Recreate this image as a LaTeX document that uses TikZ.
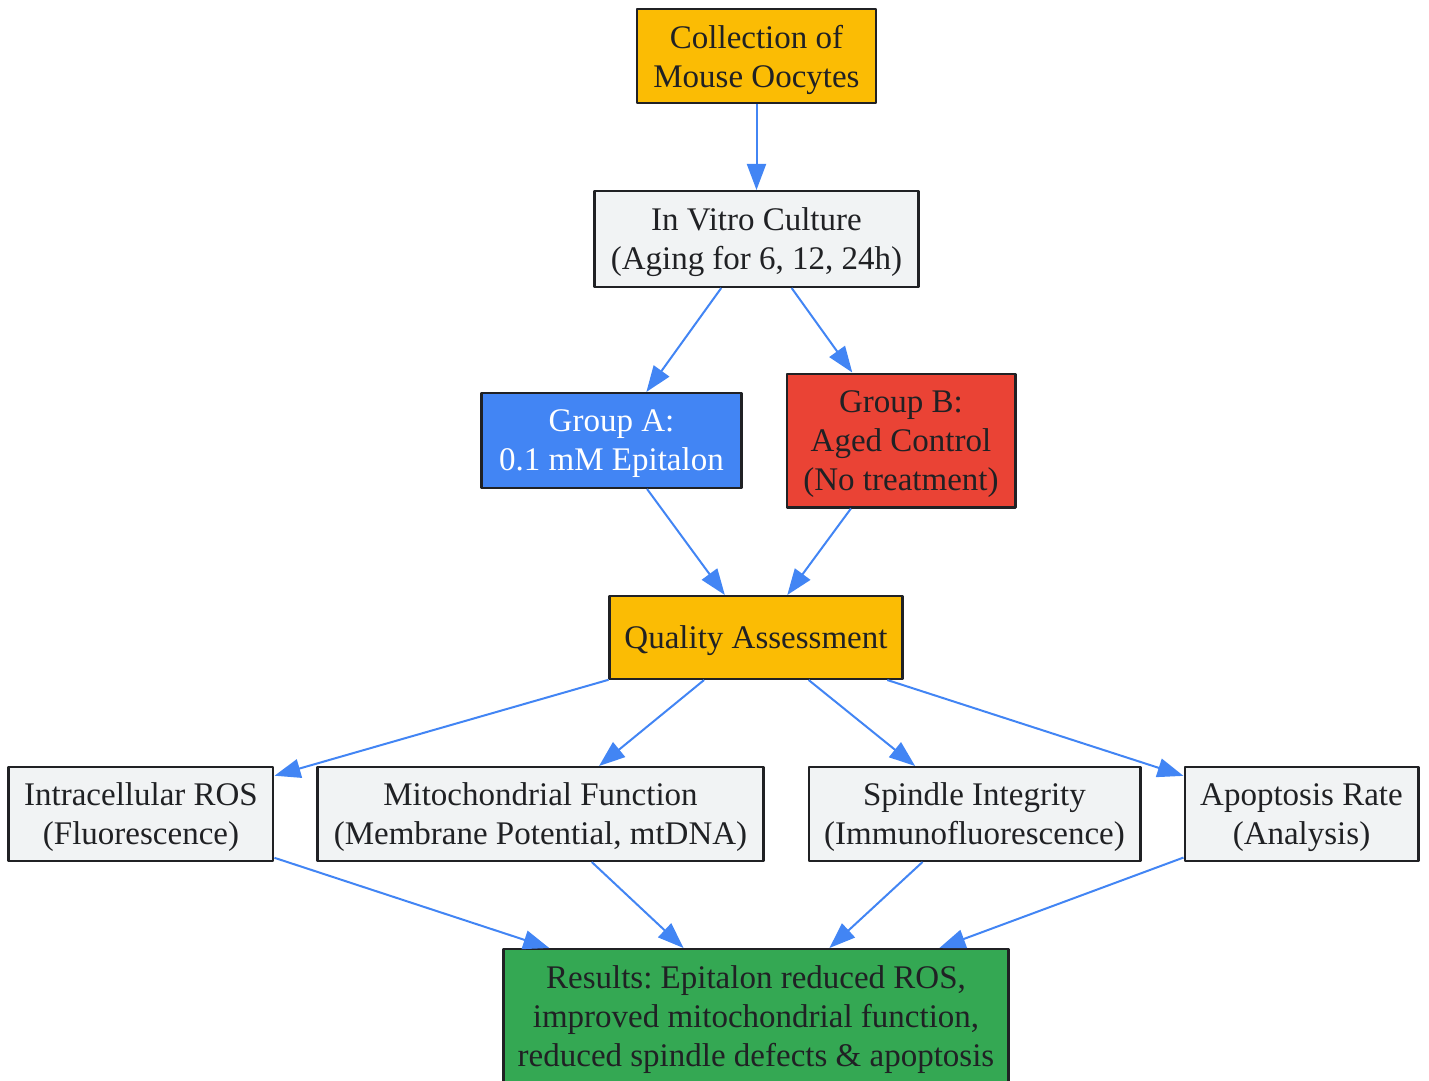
\documentclass[tikz,border=0pt]{standalone}
\usepackage{fontspec}
\setmainfont{Liberation Serif}
\usepackage{tikz}
\usetikzlibrary{arrows.meta,positioning,calc}
\definecolor{gold}{HTML}{FBBC04}
\definecolor{boxgray}{HTML}{F1F3F4}
\definecolor{gblue}{HTML}{4285F4}
\definecolor{gred}{HTML}{EA4335}
\definecolor{ggreen}{HTML}{34A853}
\definecolor{txt}{HTML}{202124}
\frenchspacing

\begin{document}
\begin{tikzpicture}[node distance=21.5pt,auto,>={Triangle[length=13pt,width=9.5pt]},line join=bevel,
  box/.style={draw=txt,line width=1.2pt,fill=boxgray,text=txt,align=center,inner sep=0pt,
    font=\fontsize{16.5}{19.5}\selectfont,text depth=-1.5pt},
  link/.style={->,color=gblue,line width=1pt}]
\useasboundingbox (-378.25pt,28pt) rectangle (336.25pt,-512.5pt);
\clip (-378.25pt,28pt) rectangle (336.25pt,-512.5pt);
\node [box,fill=gold,minimum width=119.3pt,minimum height=46.8pt] at (0,0) (coll) {Collection of\\Mouse Oocytes};
\node [box,minimum width=161.8pt,minimum height=47.8pt,below=43pt of coll] (vitro) {In Vitro Culture\\(Aging for 6, 12, 24h)};
\node [box,fill=gblue,text=white,minimum width=129.8pt,minimum height=47.3pt,below=52pt of vitro,xshift=-72.5pt] (ga) {Group A:\\0.1 mM Epitalon};
\node [box,fill=gred,minimum width=114.3pt,minimum height=66.8pt,right=21.5pt of ga] (gb) {Group B:\\Aged Control\\(No treatment)};
\node [box,fill=gold,minimum width=146.3pt,minimum height=41.3pt,below=53pt of ga,xshift=72.25pt,text depth=0pt] (qa) {Quality Assessment};
\node [box,minimum width=222.8pt,minimum height=46.8pt,below=43pt of qa,xshift=-107.75pt] (mito) {Mitochondrial Function\\(Membrane Potential, mtDNA)};
\node [box,minimum width=132.3pt,minimum height=46.8pt,left=21pt of mito] (ros) {Intracellular ROS\\(Fluorescence)};
\node [box,minimum width=165.8pt,minimum height=46.8pt,right=21.5pt of mito] (spin) {Spindle Integrity\\(Immunofluorescence)};
\node [box,minimum width=116.8pt,minimum height=46.8pt,right=21pt of spin] (apop) {Apoptosis Rate\\(Analysis)};
\node [box,fill=ggreen,minimum width=252.3pt,minimum height=66.8pt,below=43pt of mito,xshift=107.75pt] (res) {Results: Epitalon reduced ROS,\\improved mitochondrial function,\\reduced spindle defects \& apoptosis};

\draw [link] (coll) edge (vitro);
\draw [link] (vitro) edge (ga);
\draw [link] (vitro) edge (gb);
\draw [link] (ga) edge (qa);
\draw [link] (gb) edge (qa);
\draw [link] (qa) edge (ros);
\draw [link] (qa) edge (mito);
\draw [link] (qa) edge (spin);
\draw [link] (qa) edge (apop);
\draw [link] (ros) edge (res);
\draw [link] (mito) edge (res);
\draw [link] (spin) edge (res);
\draw [link] (apop) edge (res);
\end{tikzpicture}
\end{document}
